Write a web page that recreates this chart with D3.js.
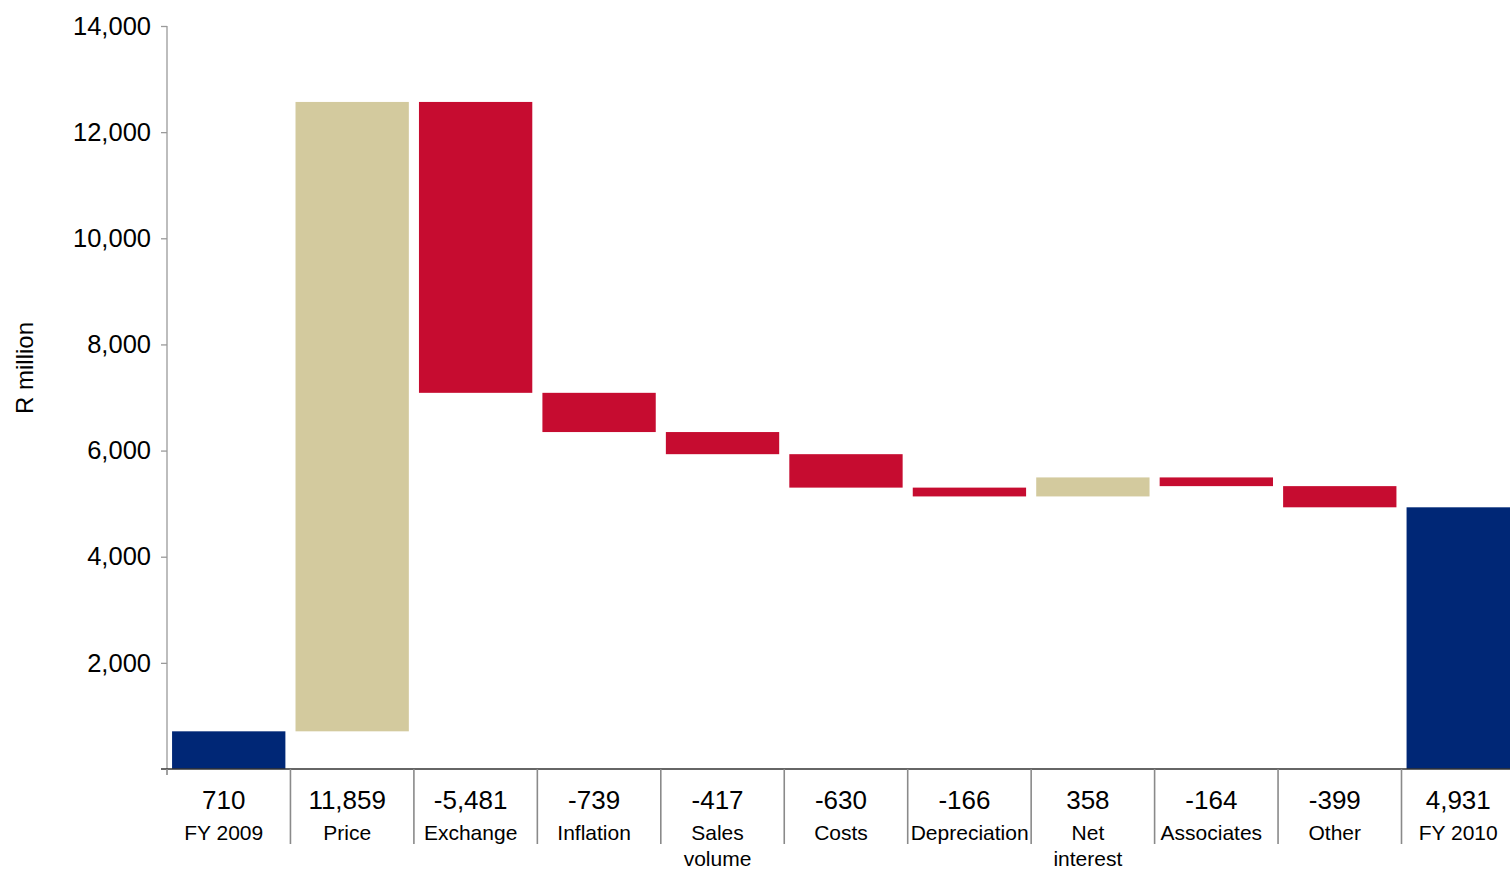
<!DOCTYPE html>
<html>
<head>
<meta charset="utf-8">
<script src="https://cdn.jsdelivr.net/npm/d3@7"></script>
<style>
  html, body { margin: 0; padding: 0; background: #fff; overflow: hidden; }
  svg { display: block; font-family: "Liberation Sans", Arial, sans-serif; }
</style>
</head>
<body>
<svg id="chart" width="1510" height="870"></svg>
<script>
// Operating profit bridge, FY 2009 to FY 2010 (R million)
const categories = ["FY 2009", "Price", "Exchange", "Inflation", "Sales\nvolume", "Costs",
                    "Depreciation", "Net\ninterest", "Associates", "Other", "FY 2010"];
const values = [710, 11859, -5481, -739, -417, -630, -166, 358, -164, -399, 4931];
const kinds = ["total", "change", "change", "change", "change", "change",
               "change", "change", "change", "change", "total"];
const yTicks = [2000, 4000, 6000, 8000, 10000, 12000, 14000];
const yLabel = "R million";

const colors = { total: "#002776", up: "#D3CA9E", down: "#C60C30" };

// plain hyphen for negatives, comma thousands
const fmt = d3.formatLocale({ decimal: ".", thousands: ",", grouping: [3], currency: ["", ""], minus: "-" }).format(",");

// running totals for the floating bars
let running = 0;
const bars = categories.map((c, i) => {
  const v = values[i];
  let y0, y1, fill;
  if (kinds[i] === "total") {
    y0 = 0; y1 = v; running = v; fill = colors.total;
  } else {
    y0 = running; y1 = running + v; running = y1;
    fill = v >= 0 ? colors.up : colors.down;
  }
  return { c, v, lo: Math.min(y0, y1), hi: Math.max(y0, y1), fill };
});

const svg = d3.select("#chart");
const left = 167, plotTop = 26, plotBottom = 769, step = 123.45;

const x = d3.scaleBand()
  .domain(categories)
  .range([left, left + step * categories.length])
  .paddingInner(0.082)
  .paddingOuter(0.041);

const y = d3.scaleLinear().domain([0, 14000]).range([plotBottom, plotTop]);

// bars
svg.append("g").selectAll("rect")
  .data(bars)
  .join("rect")
  .attr("x", d => x(d.c))
  .attr("width", x.bandwidth())
  .attr("y", d => y(d.hi))
  .attr("height", d => y(d.lo) - y(d.hi))
  .attr("fill", d => d.fill);

// y axis
const yAxis = svg.append("g")
  .attr("transform", `translate(${left},0)`)
  .call(d3.axisLeft(y).tickValues(yTicks).tickSize(6).tickPadding(10)
        .tickFormat(fmt));
yAxis.select(".domain").attr("stroke", "#9a9a9a").attr("stroke-width", 1.3)
  .attr("d", `M0,${plotTop}V${plotBottom}`);
yAxis.selectAll(".tick line").attr("stroke", "#9a9a9a").attr("stroke-width", 1.3);
yAxis.selectAll(".tick text").attr("font-size", 25.5).attr("fill", "#000")
  .attr("font-family", "'Liberation Sans', Arial, sans-serif");

svg.append("text")
  .attr("transform", `translate(33,368) rotate(-90)`)
  .attr("text-anchor", "middle")
  .attr("font-size", 24)
  .attr("fill", "#000")
  .text(yLabel);

// x baseline
svg.append("line")
  .attr("x1", left - 6).attr("x2", 1510)
  .attr("y1", plotBottom).attr("y2", plotBottom)
  .attr("stroke", "#333").attr("stroke-width", 1.5);

// category separators below the baseline
const sepX = c => x(c) - x.step() * x.paddingOuter();
svg.append("g").selectAll("line")
  .data(categories)
  .join("line")
  .attr("x1", sepX).attr("x2", sepX)
  .attr("y1", plotBottom).attr("y2", (d, i) => i === 0 ? plotBottom + 6 : 844)
  .attr("stroke", "#8a8a8a").attr("stroke-width", 1.6);

// value and category labels
const labels = svg.append("g").selectAll("g")
  .data(bars)
  .join("g")
  .attr("transform", d => `translate(${x(d.c) + x.bandwidth() / 2 - 5},0)`);

labels.append("text")
  .attr("y", 809)
  .attr("text-anchor", "middle")
  .attr("font-size", 26)
  .attr("fill", "#000")
  .text(d => fmt(d.v));

const catText = labels.append("text")
  .attr("class", "cat")
  .attr("text-anchor", "middle")
  .attr("font-size", 21)
  .attr("fill", "#000");
catText.selectAll("tspan")
  .data(d => d.c.split("\n"))
  .join("tspan")
  .attr("x", 0)
  .attr("y", (d, i) => 840 + i * 26)
  .text(d => d);

// keep wide category names clear of the separator on their left
catText.each(function (d) {
  const g = this.parentNode;
  const cx = x(d.c) + x.bandwidth() / 2 - 5;
  const w = this.getBBox().width;
  const minLeft = sepX(d.c) + 3;
  if (cx - w / 2 < minLeft) d3.select(this).attr("transform", `translate(${minLeft - (cx - w / 2)},0)`);
});
</script>
</body>
</html>
